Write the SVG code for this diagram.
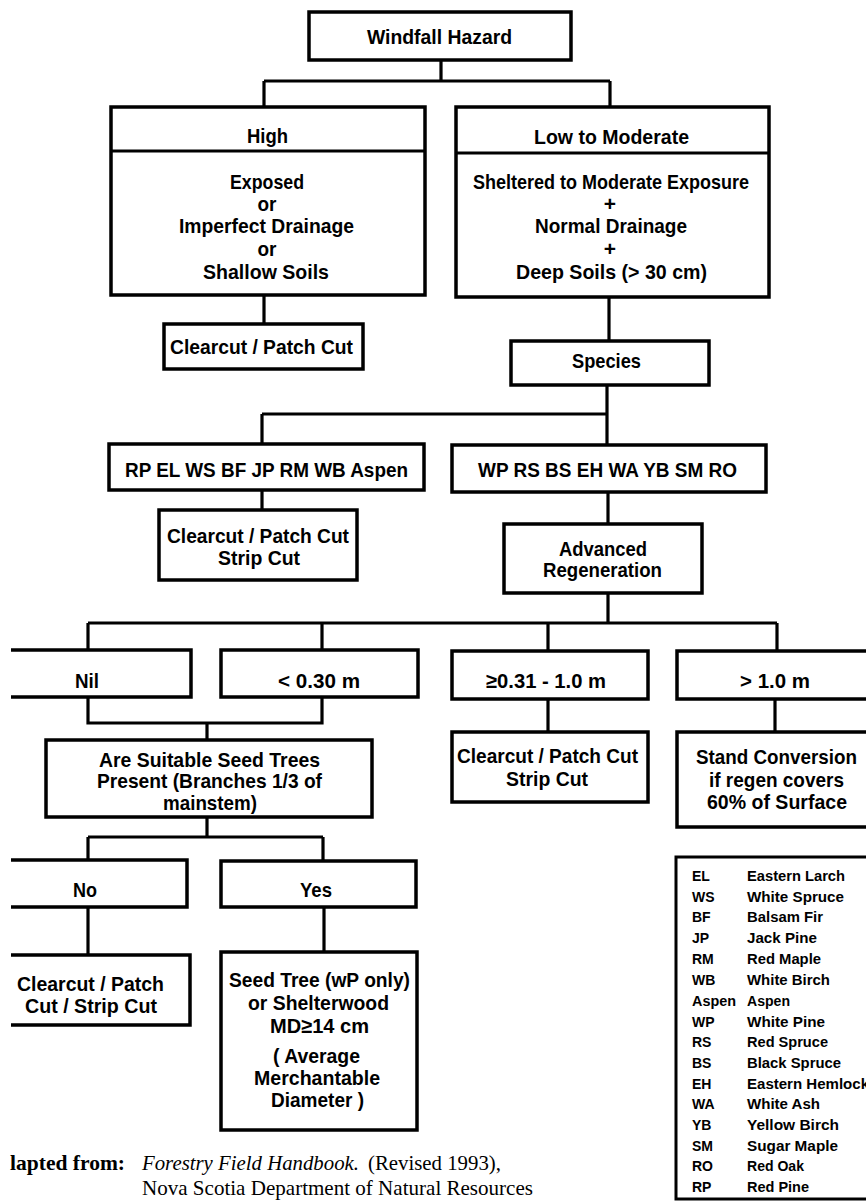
<svg xmlns="http://www.w3.org/2000/svg" width="866" height="1201" viewBox="0 0 866 1201">
<style>
.box{fill:#fff;stroke:#000;stroke-width:3.5}
.ln{fill:none;stroke:#000;stroke-width:3.2}
.t{font-family:"Liberation Sans Narrow","Liberation Sans",Arial,sans-serif;font-weight:bold;font-size:21px;text-anchor:middle;fill:#000}
.lg{font-family:"Liberation Sans",Arial,sans-serif;font-weight:bold;font-size:14px;fill:#000}
.cap{font-family:"Liberation Serif","Times New Roman",serif;font-size:21px;fill:#000}
</style>
<rect width="866" height="1201" fill="#fff"/>
<g id="connectors">
<path class="ln" d="M441,60V81M264,81H610M264,81V107M610,81V107"/>
<path class="ln" d="M264,295V324"/>
<path class="ln" d="M609,297V341"/>
<path class="ln" d="M607,385V445M262,414H607M262,414V444"/>
<path class="ln" d="M262,490V510"/>
<path class="ln" d="M608,492V524"/>
<path class="ln" d="M608,593V623M88,623H777M88,623V650M322,623V650M548,623V651M777,623V651"/>
<path class="ln" d="M88,697V723H322V697M207,723V740"/>
<path class="ln" d="M207,817V837M88,837H323M88,837V860M323,837V861"/>
<path class="ln" d="M88,907V955"/>
<path class="ln" d="M324,907V952"/>
<path class="ln" d="M548,699V732"/>
<path class="ln" d="M775,699V732"/>
</g>
<g id="windfall">
<rect class="box" x="309" y="12" width="262" height="48"/>
<text class="t" x="439.5" y="44" textLength="145" lengthAdjust="spacingAndGlyphs">Windfall Hazard</text>
</g>
<g id="high">
<rect class="box" x="111" y="107" width="314" height="188"/>
<line class="ln" x1="111" y1="151" x2="425" y2="151"/>
<text class="t" x="267.5" y="143" textLength="41" lengthAdjust="spacingAndGlyphs">High</text>
<text class="t" x="267" y="189" textLength="74" lengthAdjust="spacingAndGlyphs">Exposed</text>
<text class="t" x="267" y="211" textLength="19" lengthAdjust="spacingAndGlyphs">or</text>
<text class="t" x="266.5" y="233" textLength="175" lengthAdjust="spacingAndGlyphs">Imperfect Drainage</text>
<text class="t" x="267" y="256" textLength="19" lengthAdjust="spacingAndGlyphs">or</text>
<text class="t" x="266" y="279" textLength="126" lengthAdjust="spacingAndGlyphs">Shallow Soils</text>
</g>
<g id="low">
<rect class="box" x="456" y="107" width="313" height="190"/>
<line class="ln" x1="456" y1="153" x2="769" y2="153"/>
<text class="t" x="611.5" y="144" textLength="155" lengthAdjust="spacingAndGlyphs">Low to Moderate</text>
<text class="t" x="611" y="189" textLength="276" lengthAdjust="spacingAndGlyphs">Sheltered to Moderate Exposure</text>
<text class="t" x="610" y="211">+</text>
<text class="t" x="611" y="233" textLength="152" lengthAdjust="spacingAndGlyphs">Normal Drainage</text>
<text class="t" x="610" y="256">+</text>
<text class="t" x="611.5" y="279" textLength="191" lengthAdjust="spacingAndGlyphs">Deep Soils (&gt; 30 cm)</text>
</g>
<g id="cut1">
<rect class="box" x="164" y="324" width="199" height="45"/>
<text class="t" x="261.5" y="354" textLength="183" lengthAdjust="spacingAndGlyphs">Clearcut / Patch Cut</text>
</g>
<g id="species">
<rect class="box" x="511" y="341" width="198" height="44"/>
<text class="t" x="606.5" y="368" textLength="69" lengthAdjust="spacingAndGlyphs">Species</text>
</g>
<g id="group1">
<rect class="box" x="109" y="444" width="315" height="46"/>
<text class="t" x="266.5" y="477" textLength="283" lengthAdjust="spacingAndGlyphs">RP EL WS BF JP RM WB Aspen</text>
</g>
<g id="group2">
<rect class="box" x="452" y="445" width="314" height="47"/>
<text class="t" x="607.5" y="477" textLength="259" lengthAdjust="spacingAndGlyphs">WP RS BS EH WA YB SM RO</text>
</g>
<g id="cut2">
<rect class="box" x="159" y="510" width="198" height="70"/>
<text class="t" x="258" y="543" textLength="182" lengthAdjust="spacingAndGlyphs">Clearcut / Patch Cut</text>
<text class="t" x="259" y="565" textLength="82" lengthAdjust="spacingAndGlyphs">Strip Cut</text>
</g>
<g id="advanced">
<rect class="box" x="504" y="524" width="198" height="69"/>
<text class="t" x="603" y="556" textLength="88" lengthAdjust="spacingAndGlyphs">Advanced</text>
<text class="t" x="602.5" y="577" textLength="119" lengthAdjust="spacingAndGlyphs">Regeneration</text>
</g>
<g id="nil">
<path class="box" d="M11,650H191V697H11"/>
<text class="t" x="87" y="688" textLength="24" lengthAdjust="spacingAndGlyphs">Nil</text>
</g>
<g id="lt030">
<rect class="box" x="221" y="650" width="197" height="47"/>
<text class="t" x="319" y="688" textLength="82" lengthAdjust="spacingAndGlyphs">&lt; 0.30 m</text>
</g>
<g id="mid031">
<rect class="box" x="452" y="651" width="196" height="48"/>
<text class="t" x="546" y="688" textLength="120" lengthAdjust="spacingAndGlyphs">≥0.31 - 1.0 m</text>
</g>
<g id="gt10">
<rect class="box" x="677" y="651" width="203" height="48"/>
<text class="t" x="775" y="688" textLength="70" lengthAdjust="spacingAndGlyphs">&gt; 1.0 m</text>
</g>
<g id="cut3">
<rect class="box" x="452" y="732" width="196" height="70"/>
<text class="t" x="547.5" y="763" textLength="181" lengthAdjust="spacingAndGlyphs">Clearcut / Patch Cut</text>
<text class="t" x="547" y="786" textLength="82" lengthAdjust="spacingAndGlyphs">Strip Cut</text>
</g>
<g id="stand">
<rect class="box" x="677" y="732" width="203" height="95"/>
<text class="t" x="776.5" y="764" textLength="161" lengthAdjust="spacingAndGlyphs">Stand Conversion</text>
<text class="t" x="776.5" y="787" textLength="135" lengthAdjust="spacingAndGlyphs">if regen covers</text>
<text class="t" x="777" y="809" textLength="140" lengthAdjust="spacingAndGlyphs">60% of Surface</text>
</g>
<g id="seedq">
<rect class="box" x="46" y="740" width="326" height="77"/>
<text class="t" x="209.5" y="767" textLength="221" lengthAdjust="spacingAndGlyphs">Are Suitable Seed Trees</text>
<text class="t" x="209.5" y="788" textLength="225" lengthAdjust="spacingAndGlyphs">Present (Branches 1/3 of</text>
<text class="t" x="210" y="810" textLength="94" lengthAdjust="spacingAndGlyphs">mainstem)</text>
</g>
<g id="no">
<path class="box" d="M11,860H187V907H11"/>
<text class="t" x="85" y="897" textLength="24" lengthAdjust="spacingAndGlyphs">No</text>
</g>
<g id="yes">
<rect class="box" x="221" y="861" width="195" height="46"/>
<text class="t" x="316" y="897" textLength="32" lengthAdjust="spacingAndGlyphs">Yes</text>
</g>
<g id="cut4">
<path class="box" d="M11,955H190V1025H11"/>
<text class="t" x="90.5" y="991" textLength="147" lengthAdjust="spacingAndGlyphs">Clearcut / Patch</text>
<text class="t" x="91" y="1013" textLength="132" lengthAdjust="spacingAndGlyphs">Cut / Strip Cut</text>
</g>
<g id="seedtree">
<rect class="box" x="221" y="952" width="196" height="178"/>
<text class="t" x="319.5" y="987" textLength="181" lengthAdjust="spacingAndGlyphs">Seed Tree (wP only)</text>
<text class="t" x="318.5" y="1010" textLength="141" lengthAdjust="spacingAndGlyphs">or Shelterwood</text>
<text class="t" x="319.5" y="1033" textLength="99" lengthAdjust="spacingAndGlyphs">MD≥14 cm</text>
<text class="t" x="316.5" y="1063" textLength="87" lengthAdjust="spacingAndGlyphs">( Average</text>
<text class="t" x="317" y="1085" textLength="126" lengthAdjust="spacingAndGlyphs">Merchantable</text>
<text class="t" x="317.5" y="1107" textLength="93" lengthAdjust="spacingAndGlyphs">Diameter )</text>
</g>
<g id="legend">
<rect x="676" y="857" width="210" height="342" fill="#fff" stroke="#000" stroke-width="3"/>
<g class="lg">
<text x="692" y="881">EL</text><text x="747" y="881" textLength="98" lengthAdjust="spacingAndGlyphs">Eastern Larch</text>
<text x="692" y="902">WS</text><text x="747" y="902" textLength="97" lengthAdjust="spacingAndGlyphs">White Spruce</text>
<text x="692" y="922">BF</text><text x="747" y="922" textLength="76" lengthAdjust="spacingAndGlyphs">Balsam Fir</text>
<text x="692" y="943">JP</text><text x="747" y="943" textLength="70" lengthAdjust="spacingAndGlyphs">Jack Pine</text>
<text x="692" y="964">RM</text><text x="747" y="964" textLength="74" lengthAdjust="spacingAndGlyphs">Red Maple</text>
<text x="692" y="985">WB</text><text x="747" y="985" textLength="83" lengthAdjust="spacingAndGlyphs">White Birch</text>
<text x="692" y="1006" textLength="44" lengthAdjust="spacingAndGlyphs">Aspen</text><text x="747" y="1006" textLength="43" lengthAdjust="spacingAndGlyphs">Aspen</text>
<text x="692" y="1027">WP</text><text x="747" y="1027" textLength="78" lengthAdjust="spacingAndGlyphs">White Pine</text>
<text x="692" y="1047">RS</text><text x="747" y="1047" textLength="81" lengthAdjust="spacingAndGlyphs">Red Spruce</text>
<text x="692" y="1068">BS</text><text x="747" y="1068" textLength="94" lengthAdjust="spacingAndGlyphs">Black Spruce</text>
<text x="692" y="1089">EH</text><text x="747" y="1089" textLength="122" lengthAdjust="spacingAndGlyphs">Eastern Hemlock</text>
<text x="692" y="1109">WA</text><text x="747" y="1109" textLength="73" lengthAdjust="spacingAndGlyphs">White Ash</text>
<text x="692" y="1130">YB</text><text x="747" y="1130" textLength="92" lengthAdjust="spacingAndGlyphs">Yellow Birch</text>
<text x="692" y="1151">SM</text><text x="747" y="1151" textLength="91" lengthAdjust="spacingAndGlyphs">Sugar Maple</text>
<text x="692" y="1171">RO</text><text x="747" y="1171" textLength="57" lengthAdjust="spacingAndGlyphs">Red Oak</text>
<text x="692" y="1192">RP</text><text x="747" y="1192" textLength="62" lengthAdjust="spacingAndGlyphs">Red Pine</text>
</g>
</g>
<g id="caption">
<text class="cap" x="10" y="1170" font-weight="bold" textLength="115" lengthAdjust="spacingAndGlyphs">lapted from:</text>
<text class="cap" x="142" y="1170" font-style="italic" textLength="217" lengthAdjust="spacingAndGlyphs">Forestry Field Handbook.</text>
<text class="cap" x="368" y="1170" textLength="133" lengthAdjust="spacingAndGlyphs">(Revised 1993),</text>
<text class="cap" x="142" y="1195" textLength="391" lengthAdjust="spacingAndGlyphs">Nova Scotia Department of Natural Resources</text>
</g>
</svg>
